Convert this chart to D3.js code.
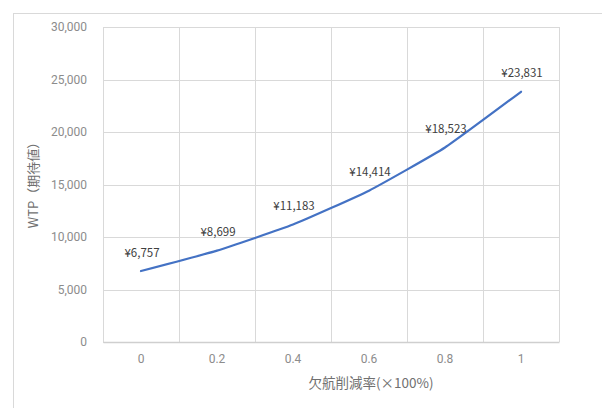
<!DOCTYPE html>
<html><head><meta charset="utf-8">
<script src="https://cdn.jsdelivr.net/npm/d3@7"></script>
<style>html,body{margin:0;padding:0;background:#fff;}svg{display:block;}</style>
</head><body>
<svg id="c" width="602" height="408"></svg>
<script>
const categories = ["0","0.2","0.4","0.6","0.8","1"];
const wtpValues = [6757, 8699, 11183, 14414, 18523, 23831];
const valueLabels = ["¥6,757","¥8,699","¥11,183","¥14,414","¥18,523","¥23,831"];
const yTicks = [0,5000,10000,15000,20000,25000,30000];
const yTitle = "WTP（期待値）";
const xTitle = "欠航削減率(×100%)";

const svg = d3.select("#c");
const L = 103, R = 559, T = 27, B = 342;
const grid = "#d9d9d9";

// outer chart frame
svg.append("rect").attr("x",13.5).attr("y",13.5).attr("width",700).attr("height",500)
  .attr("fill","#fff").attr("stroke",grid).attr("stroke-width",1);

const x = d3.scaleBand().domain(categories).range([L,R]).padding(0);
const y = d3.scaleLinear().domain([0,30000]).range([B,T]);

// horizontal gridlines
const yAxis = d3.axisLeft(y).tickValues(yTicks).tickSize(-(R-L)).tickFormat(d3.format(","));
const gy = svg.append("g").attr("transform",`translate(${L},0)`).call(yAxis);
gy.select(".domain").remove();
gy.selectAll(".tick line").attr("stroke",grid).attr("shape-rendering","crispEdges");
gy.selectAll(".tick text").attr("x",-16).attr("fill","#8c8c8c")
  .style("font-family","Roboto, 'Noto Sans', sans-serif").style("font-size","12px");

// vertical gridlines at band boundaries
const bounds = categories.map(c => x(c)).concat([R]);
svg.append("g").selectAll("line").data(bounds).join("line")
  .attr("x1",d=>Math.round(d)+0.5).attr("x2",d=>Math.round(d)+0.5)
  .attr("y1",T).attr("y2",B).attr("stroke",grid);

// x axis
const xAxis = d3.axisBottom(x).tickSize(0).tickPadding(12);
const gx = svg.append("g").attr("transform",`translate(0,${B})`).call(xAxis);
gx.select(".domain").attr("stroke","#cfcfcf").attr("stroke-width",1.3);
gx.selectAll(".tick text").attr("fill","#8c8c8c")
  .style("font-family","Roboto, 'Noto Sans', sans-serif").style("font-size","12px");

// line
const line = d3.line()
  .x((d,i)=>x(categories[i]) + x.bandwidth()/2)
  .y(d=>y(d))
  .curve(d3.curveCardinal.tension(0.6));
svg.append("path").datum(wtpValues).attr("d",line)
  .attr("fill","none").attr("stroke","#4472c4").attr("stroke-width",2.2).attr("stroke-linecap","round");

// data labels
svg.append("g").selectAll("text").data(wtpValues).join("text")
  .attr("x",(d,i)=>x(categories[i]) + x.bandwidth()/2 + 1)
  .attr("y",d=>y(d) - 18.5)
  .attr("dy","0.35em")
  .attr("text-anchor","middle")
  .attr("fill","#404040")
  .style("font-family","'Noto Sans CJK JP', 'Noto Sans', sans-serif").style("font-size","11.5px")
  .text((d,i)=>valueLabels[i]);

// axis titles
svg.append("text").attr("transform","translate(33,182) rotate(-90)")
  .attr("text-anchor","middle").attr("dy","0.35em").attr("fill","#707070")
  .style("font-family","'Noto Sans CJK JP', sans-serif").style("font-size","13px")
  .text(yTitle);
svg.append("text").attr("x",371).attr("y",383).attr("dy","0.35em")
  .attr("text-anchor","middle").attr("fill","#707070")
  .style("font-family","'Noto Sans CJK JP', sans-serif").style("font-size","13.5px")
  .text(xTitle);
</script>
</body></html>
